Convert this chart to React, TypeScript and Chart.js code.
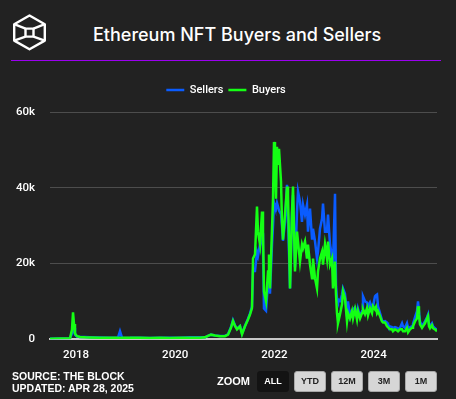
import { useEffect, useRef } from 'react';
import { Chart, registerables } from 'chart.js';
Chart.register(...registerables);

// Decimal-year dates of the sampled points
const dates = [
  2017.476, 2017.677, 2017.879, 2017.919, 2017.940, 2017.960, 2017.980, 2018.020, 2018.081, 2018.181,
  2018.282, 2018.484, 2018.685, 2018.847, 2018.887, 2018.927, 2019.089, 2019.290, 2019.492, 2019.694,
  2019.895, 2020.097, 2020.298, 2020.500, 2020.601, 2020.661, 2020.722, 2020.802, 2020.903, 2021.004,
  2021.065, 2021.125, 2021.165, 2021.206, 2021.246, 2021.306, 2021.347, 2021.407, 2021.468, 2021.508,
  2021.548, 2021.569, 2021.609, 2021.649, 2021.669, 2021.710, 2021.750, 2021.770, 2021.790, 2021.831,
  2021.871, 2021.891, 2021.911, 2021.952, 2021.972, 2021.992, 2022.012, 2022.032, 2022.052, 2022.073,
  2022.093, 2022.133, 2022.153, 2022.173, 2022.214, 2022.254, 2022.274, 2022.315, 2022.355, 2022.375,
  2022.415, 2022.456, 2022.476, 2022.516, 2022.556, 2022.577, 2022.617, 2022.657, 2022.677, 2022.718,
  2022.758, 2022.778, 2022.819, 2022.859, 2022.879, 2022.919, 2022.960, 2022.980, 2023.020, 2023.060,
  2023.081, 2023.121, 2023.161, 2023.181, 2023.222, 2023.242, 2023.262, 2023.282, 2023.323, 2023.363,
  2023.383, 2023.423, 2023.464, 2023.484, 2023.524, 2023.565, 2023.585, 2023.625, 2023.665, 2023.685,
  2023.726, 2023.766, 2023.786, 2023.827, 2023.867, 2023.887, 2023.927, 2023.968, 2023.988, 2024.028,
  2024.048, 2024.069, 2024.089, 2024.129, 2024.169, 2024.190, 2024.230, 2024.270, 2024.290, 2024.331,
  2024.371, 2024.391, 2024.431, 2024.472, 2024.492, 2024.532, 2024.573, 2024.593, 2024.633, 2024.673,
  2024.694, 2024.734, 2024.774, 2024.794, 2024.835, 2024.875, 2024.895, 2024.915, 2024.935, 2024.976,
  2024.996, 2025.036, 2025.077, 2025.097, 2025.117, 2025.137, 2025.177, 2025.198, 2025.238, 2025.278,
];

const buyers = [
  150, 200, 250, 2500, 7100, 4000, 1500, 800, 600, 500,
  450, 400, 350, 350, 400, 350, 350, 400, 300, 350,
  300, 350, 350, 400, 500, 900, 1200, 1000, 800, 800,
  1200, 3000, 4800, 3500, 2600, 3400, 1300, 3400, 5200, 6500,
  8200, 21300, 22400, 35000, 28400, 25000, 33700, 28400, 12600, 10000,
  17900, 22400, 13400, 29200, 37100, 52100, 48600, 37100, 50800, 46000,
  50300, 41600, 31000, 26300, 32900, 40300, 38100, 13400, 33700, 40300,
  17900, 28400, 25800, 20500, 25000, 24000, 25800, 21300, 25000, 19700,
  16100, 21300, 16100, 13400, 17900, 21300, 23100, 19700, 25000, 21300,
  25800, 19700, 21300, 13400, 20500, 11800, 6900, 4200, 6600, 9200,
  12600, 10800, 4700, 6900, 5500, 7400, 5500, 7900, 5200, 7400,
  5500, 6900, 7900, 6600, 8200, 6300, 8200, 6900, 8700, 7900,
  8500, 6900, 7400, 6100, 4700, 4400, 4400, 3400, 3400, 2600,
  2600, 2100, 2600, 2300, 2100, 2600, 2600, 2100, 2100, 3000,
  1800, 2600, 3000, 3400, 4700, 5500, 8700, 6500, 3900, 3000,
  3400, 4200, 5500, 6100, 3400, 2900, 3700, 2900, 2600, 2100,
];

const sellers = [
  150, 200, 250, 1500, 4500, 3000, 1200, 700, 600, 550,
  500, 450, 400, 400, 2100, 400, 350, 350, 300, 350,
  350, 400, 500, 500, 500, 900, 1200, 1000, 850, 900,
  1300, 3200, 5000, 3600, 2800, 3500, 1500, 3500, 5400, 6800,
  8600, 18000, 18000, 23000, 22000, 25000, 28000, 24000, 8100, 7500,
  15000, 18000, 12000, 25000, 30000, 36000, 35000, 34500, 36000, 35000,
  34000, 33000, 30000, 26000, 31000, 40800, 40800, 13400, 33000, 38000,
  19000, 33700, 39000, 36300, 31000, 35500, 32900, 35500, 28400, 34500,
  26600, 29200, 25800, 21300, 23100, 29200, 31800, 35800, 28400, 28400,
  32900, 25000, 22000, 19700, 38400, 14000, 10800, 10000, 10000, 11800,
  13400, 12000, 6000, 10000, 6000, 7700, 7900, 8400, 6000, 8000,
  6000, 7400, 11300, 10000, 9700, 8700, 9700, 8200, 8700, 11300,
  11600, 11800, 8700, 6900, 5000, 4700, 4800, 4400, 3700, 3400,
  3200, 3000, 3200, 3000, 2800, 3000, 4200, 3400, 3000, 4200,
  3000, 3200, 3400, 4000, 5800, 7400, 10000, 10000, 4700, 3400,
  3900, 4700, 5800, 6500, 3900, 3400, 4200, 3400, 2900, 2500,
];

const xTickYears = [2018, 2020, 2022, 2024];
const yTickValues = [0, 20000, 40000, 60000];
const yTickLabels = ['0', '20k', '40k', '60k'];
const zoomButtons = ['ALL', 'YTD', '12M', '3M', '1M'];

const SELLER_COLOR = '#0a5cff';
const BUYER_COLOR = '#14ff14';
const TICK_FONT = { family: 'Roboto', size: 11.5, weight: 500 as any };

const legendSpacer = {
  id: 'legendSpacer',
  beforeInit(chart: any) {
    const orig = chart.legend.fit;
    chart.legend.fit = function () {
      orig.call(this);
      this.height += 6.5;
    };
  },
};

export default function App() {
  const ref = useRef<HTMLCanvasElement>(null);

  useEffect(() => {
    const n = Math.min(dates.length, buyers.length, sellers.length);
    const pts = (arr: number[]) => dates.slice(0, n).map((d, i) => ({ x: d, y: arr[i] }));
    const chart = new Chart(ref.current!, {
      type: 'line',
      data: {
        datasets: [
          {
            label: 'Buyers',
            data: pts(buyers),
            borderColor: BUYER_COLOR,
            backgroundColor: BUYER_COLOR,
            borderWidth: 2.5,
            pointRadius: 0,
            tension: 0,
          },
          {
            label: 'Sellers',
            data: pts(sellers),
            borderColor: SELLER_COLOR,
            backgroundColor: SELLER_COLOR,
            borderWidth: 2.5,
            pointRadius: 0,
            tension: 0,
          },
        ],
      },
      options: {
        responsive: false,
        animation: false,
        layout: { padding: { top: 17.5, right: 19, left: 15, bottom: 0 } },
        plugins: {
          legend: {
            position: 'top',
            reverse: true,
            labels: {
              usePointStyle: true,
              pointStyle: 'line',
              pointStyleWidth: 18,
              boxWidth: 18,
              boxHeight: 11,
              padding: 5,
              color: '#ffffff',
              font: { family: 'Roboto', size: 11, weight: 500 as any },
            },
          },
          tooltip: { enabled: false },
        },
        scales: {
          x: {
            type: 'linear',
            min: dates[0],
            max: dates[dates.length - 1],
            grid: { display: false, drawTicks: false },
            border: { display: true, color: '#c8c8c8', width: 2 },
            afterBuildTicks: (scale: any) => {
              scale.ticks = xTickYears.map((v) => ({ value: v }));
            },
            ticks: {
              color: '#ffffff',
              font: TICK_FONT,
              padding: 9,
              maxRotation: 0,
              autoSkip: false,
              callback: (v: any) => String(v),
            },
          },
          y: {
            min: 0,
            max: 60000,
            afterBuildTicks: (scale: any) => {
              scale.ticks = yTickValues.map((v) => ({ value: v }));
            },
            afterFit: (scale: any) => {
              scale.width = 35;
            },
            grid: {
              color: (ctx: any) => (ctx.tick && ctx.tick.value === 0 ? 'rgba(0,0,0,0)' : '#4d4d4d'),
              drawTicks: false,
              lineWidth: 1,
            },
            border: { display: false },
            ticks: {
              color: '#ffffff',
              font: TICK_FONT,
              padding: 15,
              callback: (v: any) => {
                const i = yTickValues.indexOf(Number(v));
                return i >= 0 ? yTickLabels[i] : '';
              },
            },
          },
        },
      },
      plugins: [legendSpacer],
    } as any);
    return () => chart.destroy();
  }, []);

  return (
    <div
      style={{
        position: 'absolute',
        left: 0,
        top: 0,
        width: 456,
        height: 399,
        background: '#222222',
        overflow: 'hidden',
      }}
    >
      <svg
        width={456}
        height={60}
        style={{ position: 'absolute', left: 0, top: 0 }}
      >
        <g fill="none" stroke="#ffffff" strokeWidth={2.4} strokeLinejoin="round">
          <polygon points="29.5,15.5 44.8,24.2 44.8,40.6 29.5,49.3 14.2,40.6 14.2,24.2" />
          <rect x={25.5} y={28.6} width={8} height={8} />
          <line x1={14.2} y1={24.2} x2={25.5} y2={28.6} />
          <line x1={44.8} y1={24.2} x2={33.5} y2={28.6} />
          <line x1={14.2} y1={40.6} x2={25.5} y2={36.6} />
          <line x1={44.8} y1={40.6} x2={33.5} y2={36.6} />
        </g>
      </svg>
      <div
        style={{
          position: 'absolute',
          left: 93,
          top: 25,
          fontFamily: 'Inter, sans-serif',
          fontWeight: 500,
          fontSize: 18,
          lineHeight: '19px',
          color: '#ffffff',
          whiteSpace: 'nowrap',
        }}
      >
        Ethereum NFT Buyers and Sellers
      </div>
      <div
        style={{
          position: 'absolute',
          left: 11,
          top: 60,
          width: 430,
          height: 1,
          background: '#9b00f0',
        }}
      />
      <div style={{ position: 'absolute', left: 0, top: 62, width: 456, height: 309 }}>
        <canvas ref={ref} width={456} height={309} />
      </div>
      <div
        style={{
          position: 'absolute',
          left: 12,
          top: 371,
          fontFamily: '"Liberation Sans", Arial, sans-serif',
          fontWeight: 700,
          fontSize: 10.5,
          lineHeight: '11.5px',
          color: '#ffffff',
          whiteSpace: 'nowrap',
        }}
      >
        <div>SOURCE: THE BLOCK</div>
        <div>UPDATED: APR 28, 2025</div>
      </div>
      <div
        style={{
          position: 'absolute',
          left: 217,
          top: 370,
          fontFamily: '"Liberation Sans", Arial, sans-serif',
          fontWeight: 700,
          fontSize: 11,
          lineHeight: '22px',
          color: '#ffffff',
        }}
      >
        ZOOM
      </div>
      {zoomButtons.map((b, i) => (
        <div
          key={b}
          style={{
            position: 'absolute',
            left: 257 + i * 37,
            top: 371,
            width: 32,
            height: 21,
            boxSizing: 'border-box',
            borderRadius: 3,
            background: i === 0 ? '#131313' : '#d6d6d6',
            border: i === 0 ? '1px solid #131313' : '1px solid #a8a8a8',
            color: i === 0 ? '#ffffff' : '#222222',
            fontFamily: '"Liberation Sans", Arial, sans-serif',
            fontWeight: 700,
            fontSize: 9,
            lineHeight: '19px',
            textAlign: 'center',
          }}
        >
          {b}
        </div>
      ))}
    </div>
  );
}
